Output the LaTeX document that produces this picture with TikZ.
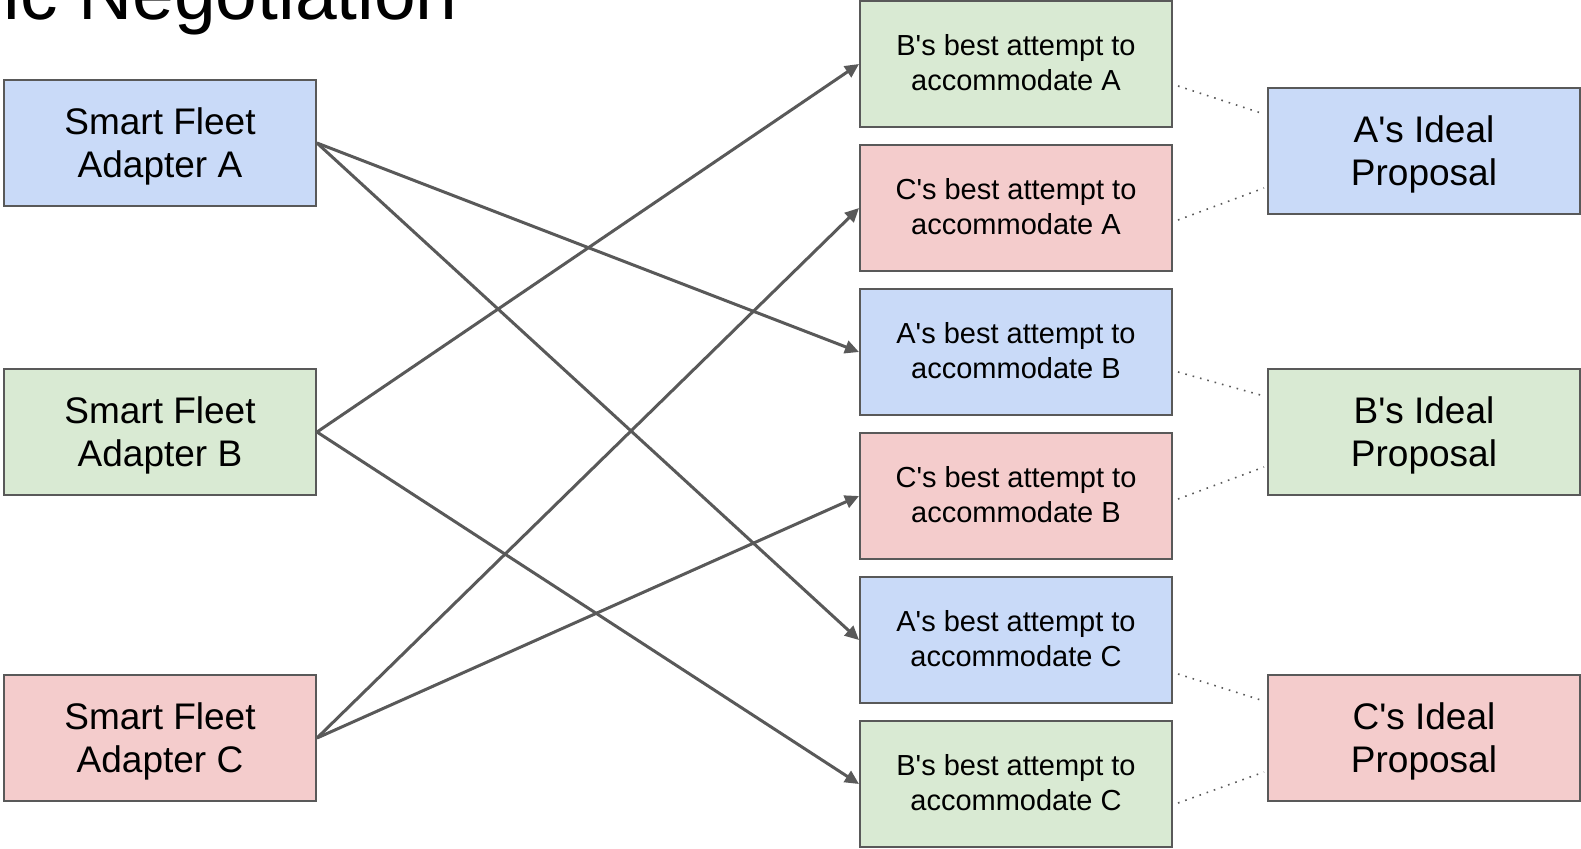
\documentclass[tikz,border=0pt]{standalone}
\usepackage{fontspec}
\setmainfont{Liberation Sans}[Ligatures=TeXOff]
\usetikzlibrary{positioning,arrows.meta}
\definecolor{boxblue}{HTML}{C9DAF8}
\definecolor{boxgreen}{HTML}{D9EAD3}
\definecolor{boxred}{HTML}{F4CCCC}
\definecolor{edgegray}{HTML}{595959}

\begin{document}
\begin{tikzpicture}[x=0.5pt,y=-0.5pt,node distance={72pt},
main/.style={draw=edgegray,line width=1pt,rectangle,minimum width=156pt,minimum height=63pt,inner sep=0pt,align=center},
big/.style={main,text depth=0pt,font=\fontsize{18.5}{21.5}\selectfont},
small/.style={main,text depth=1.5pt,font=\fontsize{14.5}{17.5}\selectfont},
link/.style={-{Triangle[length=7pt,width=6.5pt]},draw=edgegray,line width=1.5pt},
dots/.style={draw=edgegray,line width=0.8pt,dash pattern=on 0.8pt off 3pt}]
\clip (0,0) rectangle (1581,848);

\node[inner sep=0pt,anchor=base west,font=\fontsize{37.5}{40}\selectfont] (title) at (3,19) {ic Negotiation};

\node[big,fill=boxblue] (sfa) at (160,143) {Smart Fleet\\Adapter A};
\node[big,fill=boxgreen] (sfb) at (160,432) {Smart Fleet\\Adapter B};
\node[big,fill=boxred] (sfc) at (160,738) {Smart Fleet\\Adapter C};

\node[small,fill=boxgreen] (ba) at (1016,64) {B's best attempt to\\accommodate A};
\node[small,fill=boxred] (ca) [below of=ba] {C's best attempt to\\accommodate A};
\node[small,fill=boxblue] (ab) [below of=ca] {A's best attempt to\\accommodate B};
\node[small,fill=boxred] (cb) [below of=ab] {C's best attempt to\\accommodate B};
\node[small,fill=boxblue] (ac) [below of=cb] {A's best attempt to\\accommodate C};
\node[small,fill=boxgreen] (bc) [below of=ac] {B's best attempt to\\accommodate C};

\node[big,fill=boxblue] (ia) at (1424,151) {A's Ideal\\Proposal};
\node[big,fill=boxgreen] (ib) at (1424,432) {B's Ideal\\Proposal};
\node[big,fill=boxred] (ic) at (1424,738) {C's Ideal\\Proposal};

\draw[link] (sfa.east) -- (ab.west);
\draw[link] (sfa.east) -- (ac.west);
\draw[link] (sfb.east) -- (ba.west);
\draw[link] (sfb.east) -- (bc.west);
\draw[link] (sfc.east) -- (ca.west);
\draw[link] (sfc.east) -- (cb.west);

\draw[dots] ([shift={(5,22)}]ba.east) -- ([shift={(-3,-37)}]ia.west);
\draw[dots] ([shift={(5,12)}]ca.east) -- ([shift={(-3,37)}]ia.west);
\draw[dots] ([shift={(5,20)}]ab.east) -- ([shift={(-3,-36)}]ib.west);
\draw[dots] ([shift={(5,3)}]cb.east) -- ([shift={(-3,35)}]ib.west);
\draw[dots] ([shift={(5,34)}]ac.east) -- ([shift={(-3,-37)}]ic.west);
\draw[dots] ([shift={(5,19)}]bc.east) -- ([shift={(-3,34)}]ic.west);

\end{tikzpicture}
\end{document}
